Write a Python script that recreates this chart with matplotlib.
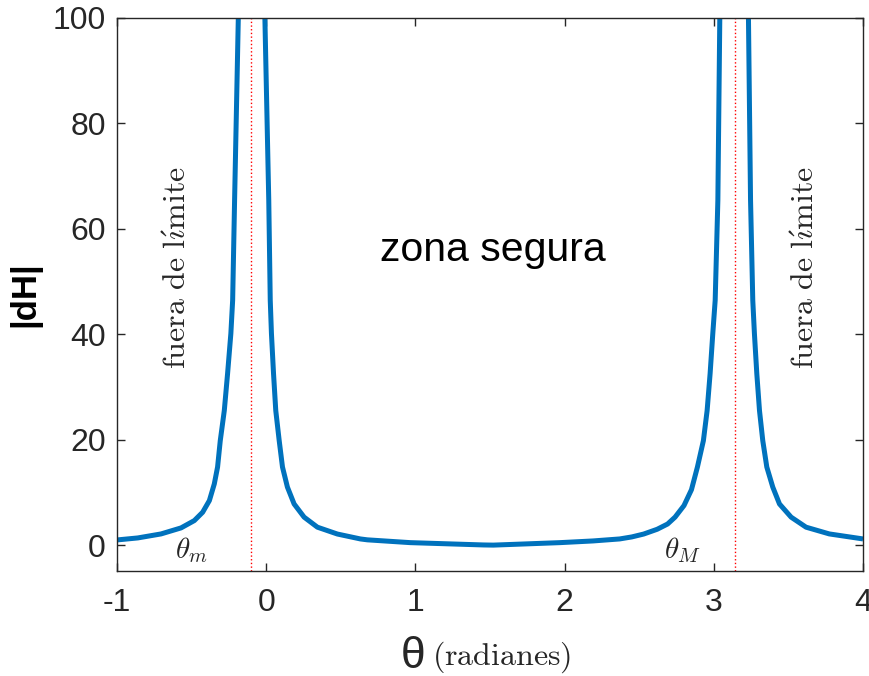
import numpy as np
import matplotlib.pyplot as plt

plt.rcParams['mathtext.fontset'] = 'cm'
plt.rcParams['font.family'] = ['Liberation Sans', 'DejaVu Sans']
plt.rcParams['axes.unicode_minus'] = False

# |dH| against theta; NaN splits the curve at the two singular points
theta = [-1.0, -0.861, -0.705, -0.571, -0.482, -0.426, -0.381, -0.348, -0.326,
         -0.308, -0.281, -0.259, -0.237, -0.225, -0.212, -0.187, -0.170,
         np.nan,
         -0.030, -0.009, 0.017, 0.027, 0.035, 0.049, 0.064, 0.087, 0.109,
         0.142, 0.187, 0.254, 0.343, 0.477, 0.631, 0.678, 0.965, 1.456,
         1.522, 1.969, 2.19, 2.369, 2.45, 2.53, 2.62, 2.69, 2.74, 2.80,
         2.85, 2.89, 2.93, 2.955, 2.975, 2.993, 3.009, 3.027, 3.04, 3.065,
         np.nan,
         3.215, 3.232, 3.246, 3.261, 3.272, 3.288, 3.306, 3.328, 3.355,
         3.395, 3.44, 3.518, 3.618, 3.774, 4.0]
dH = [0.98, 1.36, 2.12, 3.26, 4.65, 6.23, 8.44, 11.6, 14.8,
      19.8, 25.5, 32.5, 40.1, 46.4, 65.4, 100, 150,
      np.nan,
      150, 100, 65.4, 46.4, 40.1, 32.5, 25.5, 19.8, 14.8,
      11.0, 7.8, 5.3, 3.4, 2.1, 1.17, 1.0, 0.47, 0.03,
      0.0, 0.47, 0.79, 1.17, 1.55, 2.1, 3.0, 4.0, 5.3, 7.5,
      10.5, 14.8, 19.8, 25.5, 32.5, 40.1, 46.4, 65.4, 100, 150,
      np.nan,
      150, 100, 65.4, 46.4, 40.1, 32.5, 25.5, 19.8, 14.8,
      11.0, 7.8, 5.3, 3.4, 2.12, 1.17]

theta_m = -0.1
theta_M = np.pi

xticks = [-1, 0, 1, 2, 3, 4]
yticks = [0, 20, 40, 60, 80, 100]

dark = '#262626'
limit_text = r'$\mathrm{fuera\ de\ l\acute{\imath}mite}$'

fig = plt.figure(figsize=(8.7, 6.76), dpi=100)
ax = fig.add_axes([0.1345, 0.1546, 0.8575, 0.8194])

ax.plot(theta, dH, color='#0072BD', lw=3.6, solid_capstyle='butt')
ax.axvline(theta_m, color='red', lw=1.0, ls=':')
ax.axvline(theta_M, color='red', lw=1.0, ls=':')

ax.set_xlim(-1, 4)
ax.set_ylim(-5, 100)
ax.set_xticks(xticks)
ax.set_yticks(yticks)
ax.tick_params(direction='in', length=6, width=1, colors=dark,
               labelsize=23, top=True, right=True)
ax.tick_params(axis='x', pad=12)
ax.tick_params(axis='y', pad=8)
for s in ax.spines.values():
    s.set_color(dark)
    s.set_linewidth(1.0)

ax.set_ylabel('|dH|', fontsize=25, fontweight='bold', color='black', labelpad=8)

ax.text(0.76, 56, 'zona segura', fontsize=29.5, ha='left', va='center')
ax.text(-0.59, 52.7, limit_text, fontsize=23, rotation=90,
        ha='center', va='center', color=dark)
ax.text(3.62, 52.7, limit_text, fontsize=23, rotation=90,
        ha='center', va='center', color=dark)
ax.text(-0.5, -1, r'$\theta_m$', fontsize=21, ha='center', va='center', color=dark)
ax.text(2.79, -1, r'$\theta_M$', fontsize=21, ha='center', va='center', color=dark)

fig.text(413 / 870, 1 - 656 / 676, 'θ', fontsize=32, ha='center', va='center', color=dark)
fig.text(432 / 870, 1 - 657 / 676, r'$\mathrm{(radianes)}$', fontsize=23,
         ha='left', va='center', color=dark)

fig.savefig('out.png', dpi=100)
